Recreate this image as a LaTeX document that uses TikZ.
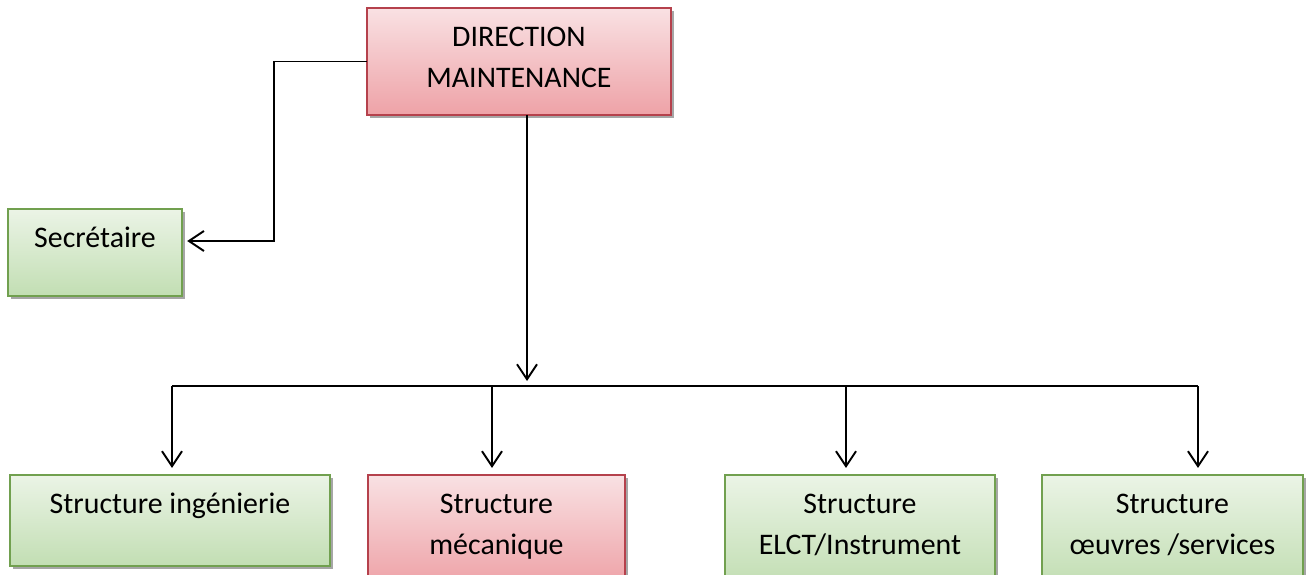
\documentclass[tikz,border=0pt]{standalone}
\usepackage{fontspec}
\setmainfont{Carlito}
\usepackage{xcolor}
\usetikzlibrary{arrows.meta,shadows}

\definecolor{greentop}{HTML}{EBF4E6}
\definecolor{greenbot}{HTML}{C2DEB3}
\definecolor{greenline}{HTML}{71A04F}
\definecolor{redtop}{HTML}{F9E1E3}
\definecolor{redbot}{HTML}{EEA2A7}
\definecolor{redline}{HTML}{B5414C}

\begin{document}
\begin{tikzpicture}[x=0.02cm, y=-0.02cm,
  box/.style={anchor=north west, inner sep=0pt, outer sep=0pt, align=flush center,
    line width=0.8pt, font=\fontsize{17}{23.3}\selectfont, text height=0.78cm,
    general shadow={fill=black!35, shadow xshift=0.06cm, shadow yshift=-0.06cm}},
  greenbox/.style={box, draw=greenline, top color=greentop, bottom color=greenbot},
  redbox/.style={box, draw=redline, top color=redtop, bottom color=redbot},
  arr/.style={-{Straight Barb[length=0.3cm, width=0.4cm, line width=1.1pt]}, line width=1.1pt}]
\useasboundingbox (0,0) rectangle (1306,575);

% Boxes
\node[redbox, text width=6.08cm, text depth=1.36cm] (dir) at (367,8) {DIRECTION\\MAINTENANCE};
\node[greenbox, text width=3.48cm, text depth=0.96cm] (sec) at (8,209) {Secrétaire};
\node[greenbox, text width=6.4cm, text depth=1.04cm] (ing) at (10,475) {Structure ingénierie};
\node[redbox, text width=5.14cm, text depth=1.42cm] (meca) at (368,475) {Structure\\mécanique};
\node[greenbox, text width=5.4cm, text depth=1.42cm] (elct) at (725,475) {Structure\\ELCT/Instrument};
\node[greenbox, text width=5.22cm, text depth=1.42cm] (oeuv) at (1042,475) {Structure\\œuvres /services};

% Secretary link
\coordinate (secin) at (sec.east |- 0,241);
\draw[arr, shorten >=3pt] (dir.west) -| (274,241) -- (secin);

% Down to the structures
\coordinate (dirout) at (dir.south -| 527,0);
\coordinate (busL) at (172,386);
\coordinate (busR) at (1198,386);
\draw[arr] (dirout) -- (527,381);
\draw[line width=1.1pt] (busL) -- (busR);
\foreach \x/\b in {172/ing, 492/meca, 846/elct, 1198/oeuv}
  \draw[arr, shorten >=4pt] (\x,386) -- (\b.north -| \x,0);
\end{tikzpicture}
\end{document}
